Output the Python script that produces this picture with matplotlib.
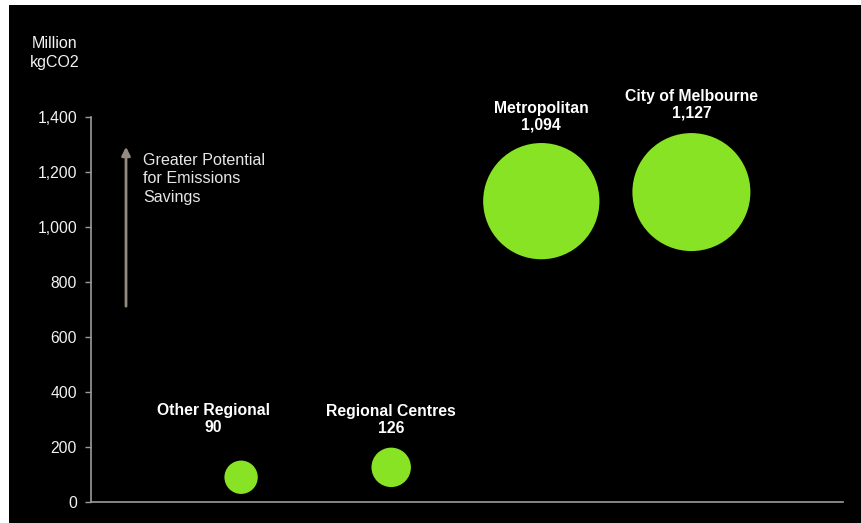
import matplotlib
matplotlib.use("Agg")
import matplotlib.pyplot as plt
from matplotlib.patches import Rectangle, FancyArrowPatch
import numpy as np

plt.rcParams["font.family"] = ["Liberation Sans", "DejaVu Sans"]

# emissions by area (million kgCO2); bubble area follows the same value
regions = ["Other Regional", "Regional Centres", "Metropolitan", "City of Melbourne"]
emissions = [90, 126, 1094, 1127]
value_labels = ["90", "126", "1,094", "1,127"]
y_ticks = [0, 200, 400, 600, 800, 1000, 1200, 1400]

BUBBLE = "#87e324"
AXIS = "#9c9c9c"
TEXT = "#f2f2f2"
DPI = 100
PX_PER_SQRT = 3.515          # bubble diameter in px per sqrt(value)
# label placement relative to each bubble (px): sideways shift, gap above bubble
label_dx_px = [-28, 0, 0, 0]
label_gap_px = [26, 12, 11, 13]

fig = plt.figure(figsize=(8.62, 5.23), dpi=DPI, facecolor="white")
# black slide panel behind everything
fig.patches.append(Rectangle((9 / 862, 0), 1 - 9 / 862, 1 - 5 / 523,
                             transform=fig.transFigure, facecolor="black",
                             edgecolor="none", zorder=-10))

ax = fig.add_axes([91 / 862, 1 - 502 / 523, (843 - 91) / 862, (502 - 117) / 523])
ax.patch.set_alpha(0)

x = np.arange(1, len(regions) + 1)
diam_px = PX_PER_SQRT * np.sqrt(emissions)
diam_pt = diam_px * 72 / DPI
ax.scatter(x, emissions, s=diam_pt ** 2, color=BUBBLE, edgecolors="none",
           zorder=3, clip_on=False)

for xi, yi, name, lab, d, dx, gap in zip(x, emissions, regions, value_labels,
                                         diam_px, label_dx_px, label_gap_px):
    ax.annotate(f"{name}\n{lab}", (xi, yi),
                xytext=(dx * 72 / DPI, (d / 2 + gap) * 72 / DPI),
                textcoords="offset points",
                ha="center", va="bottom", fontsize=11.3, fontweight="bold",
                color="white", linespacing=1.1, annotation_clip=False)

ax.set_xlim(0, 5.01)
ax.set_ylim(0, 1400)
ax.set_xticks([])
ax.set_yticks(y_ticks)
ax.set_yticklabels([f"{v:,}" for v in y_ticks])
ax.tick_params(axis="y", colors=AXIS, labelcolor=TEXT, labelsize=11.3,
               length=4, width=1, pad=6)
for side in ("top", "right"):
    ax.spines[side].set_visible(False)
for side in ("left", "bottom"):
    ax.spines[side].set_color(AXIS)
    ax.spines[side].set_linewidth(1.2)

# axis unit label at top left
fig.text(55 / 862, 1 - 53 / 523, "Million\nkgCO2", ha="center", va="center",
         fontsize=11.5, color=TEXT, linespacing=1.35)

# arrow and note
fig.patches.append(FancyArrowPatch(
    (126 / 862, 1 - 309 / 523), (126 / 862, 1 - 144 / 523),
    transform=fig.transFigure, arrowstyle="-|>,head_length=5,head_width=2.5",
    color="#948a80", linewidth=2, mutation_scale=1))
fig.text(143 / 862, 1 - 153 / 523, "Greater Potential\nfor Emissions\nSavings",
         ha="left", va="top", fontsize=11.6, color="#e6e6e6", linespacing=1.28)

fig.savefig("out.png", dpi=DPI, facecolor=fig.get_facecolor())
